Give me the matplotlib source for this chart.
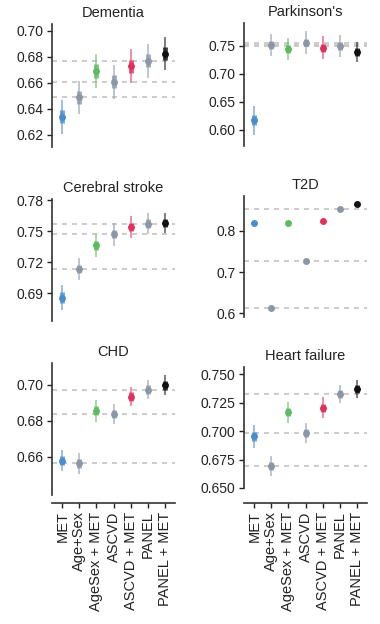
import matplotlib
matplotlib.use('Agg')
import matplotlib.pyplot as plt

plt.rcParams['font.family'] = ['Liberation Sans', 'DejaVu Sans']

# models and colours
models = ['MET', 'Age+Sex', 'AgeSex + MET', 'ASCVD', 'ASCVD + MET', 'PANEL', 'PANEL + MET']
colors = ['#4a8dcf', '#8a97a6', '#5dbb5d', '#8a97a6', '#e0305e', '#8a97a6', '#111111']
baseline_idx = [1, 3, 5]  # dashed reference lines

# AUC values, with outer / inner interval half widths
dementia_auc = [0.634, 0.6487, 0.669, 0.6607, 0.6725, 0.677, 0.6824]
dementia_err = [0.013, 0.013, 0.013, 0.013, 0.013, 0.013, 0.013]
dementia_inner = [0.005, 0.005, 0.005, 0.005, 0.005, 0.005, 0.005]

parkinsons_auc = [0.6167, 0.752, 0.745, 0.756, 0.747, 0.7494, 0.739]
parkinsons_err = [0.026, 0.02, 0.02, 0.02, 0.02, 0.02, 0.018]
parkinsons_inner = [0.009, 0.007, 0.007, 0.007, 0.007, 0.007, 0.007]

stroke_auc = [0.6857, 0.7134, 0.7361, 0.7469, 0.754, 0.7573, 0.7579]
stroke_err = [0.012, 0.011, 0.011, 0.011, 0.011, 0.01, 0.01]
stroke_inner = [0.005, 0.004, 0.004, 0.004, 0.004, 0.004, 0.004]

t2d_auc = [0.8204, 0.612, 0.8204, 0.7268, 0.8237, 0.8537, 0.8644]
t2d_err = [0, 0, 0, 0, 0, 0, 0]
t2d_inner = [0, 0, 0, 0, 0, 0, 0]

chd_auc = [0.6578, 0.6563, 0.6855, 0.6838, 0.6935, 0.6974, 0.6998]
chd_err = [0.006, 0.006, 0.006, 0.0055, 0.0055, 0.0055, 0.0055]
chd_inner = [0.0025, 0.0025, 0.0025, 0.0025, 0.0025, 0.0025, 0.0025]

hf_auc = [0.6956, 0.6695, 0.7165, 0.6985, 0.7207, 0.7327, 0.7374]
hf_err = [0.01, 0.009, 0.009, 0.009, 0.009, 0.008, 0.008]
hf_inner = [0.004, 0.0035, 0.0035, 0.0035, 0.0035, 0.0035, 0.0035]

W, H = 380, 624
fig = plt.figure(figsize=(W / 100, H / 100), dpi=100)

# (title, auc, err, inner, x0px, top px, bottom px, ylim, yticks, fmt, bottom row offset)
panels = [
    ('Dementia', dementia_auc, dementia_err, dementia_inner, 52, 24, 146.7,
     (0.611, 0.705), [0.62, 0.64, 0.66, 0.68, 0.70], '%.2f', None),
    ("Parkinson's", parkinsons_auc, parkinsons_err, parkinsons_inner, 244, 23.3, 146,
     (0.571, 0.7905), [0.60, 0.65, 0.70, 0.75], '%.2f', None),
    ('Cerebral stroke', stroke_auc, stroke_err, stroke_inner, 52, 199, 321,
     (0.663, 0.781), [0.69, 0.72, 0.75, 0.78], '%.2f', None),
    ('T2D', t2d_auc, t2d_err, t2d_inner, 244, 196, 317,
     (0.591, 0.885), [0.6, 0.7, 0.8], '%.1f', None),
    ('CHD', chd_auc, chd_err, chd_inner, 52, 363.3, 495,
     (0.6386, 0.7121), [0.66, 0.68, 0.70], '%.2f', 8),
    ('Heart failure', hf_auc, hf_err, hf_inner, 244, 366.7, 488,
     (0.650, 0.7567), [0.650, 0.675, 0.700, 0.725, 0.750], '%.3f', 15),
]

for title, auc, err, inner, x0, top, bot, ylim, yticks, fmt, offset in panels:
    ax = fig.add_axes([x0 / W, 1 - bot / H, 123 / W, (bot - top) / H])
    ax.set_xlim(-0.6, 6.6)
    ax.set_ylim(*ylim)

    for i in baseline_idx:
        ax.axhline(auc[i], color='#c4c4c4', lw=1.2, ls=(0, (3, 3)), zorder=1)

    for i in range(len(models)):
        if err[i] > 0:
            ax.vlines(i, auc[i] - err[i], auc[i] + err[i], color=colors[i],
                      lw=1.4, alpha=0.55, zorder=2)
            ax.vlines(i, auc[i] - inner[i], auc[i] + inner[i], color=colors[i],
                      lw=3.5, alpha=0.8, zorder=3)
        ax.plot(i, auc[i], 'o', ms=5, color=colors[i], mec='none', zorder=4)

    ax.set_title(title, fontsize=10.5, pad=5, color='#222222')
    ax.set_yticks(yticks)
    ax.set_yticklabels([fmt % v for v in yticks])
    ax.tick_params(axis='y', labelsize=10, length=3.5, width=1, colors='#222222', pad=2.5)

    for s in ['top', 'right']:
        ax.spines[s].set_visible(False)
    ax.spines['left'].set_linewidth(1.2)
    ax.spines['left'].set_color('#333333')

    if offset is None:
        ax.spines['bottom'].set_visible(False)
        ax.set_xticks([])
    else:
        ax.spines['bottom'].set_position(('outward', offset * 0.72))
        ax.spines['bottom'].set_linewidth(1.2)
        ax.spines['bottom'].set_color('#333333')
        ax.set_xticks(range(len(models)))
        ax.set_xticklabels(models, rotation=90, fontsize=10.5)
        ax.tick_params(axis='x', length=3.5, width=1, colors='#222222', pad=2.5)

fig.savefig('out.png', dpi=100)
